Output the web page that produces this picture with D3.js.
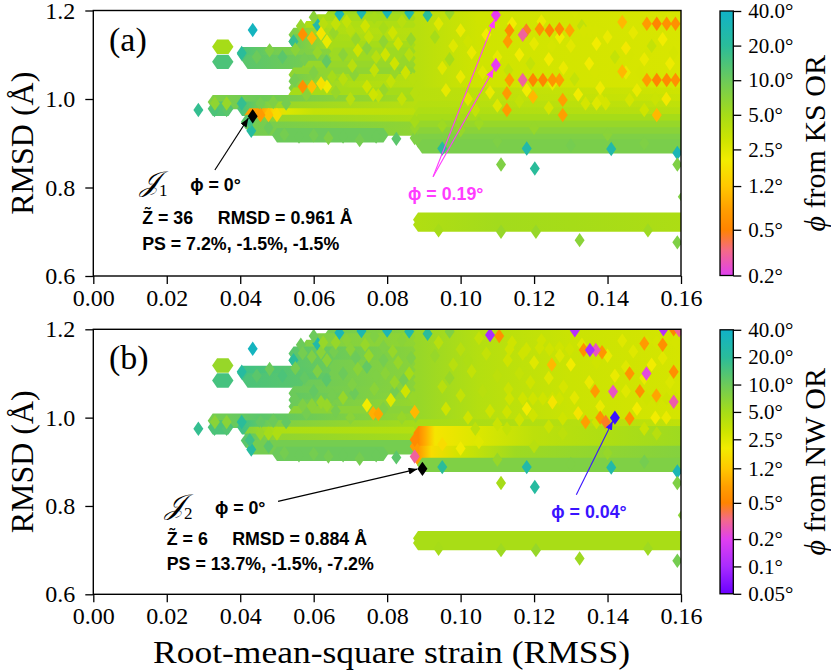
<!DOCTYPE html>
<html>
<head>
<meta charset="utf-8">
<script src="https://cdn.jsdelivr.net/npm/d3@7/dist/d3.min.js"></script>
<style>
  body { margin: 0; background: #fff; }
  svg text { font-family: "Liberation Serif", "DejaVu Serif", serif; fill: #000; }
  .note { font-family: "Liberation Sans", Arial, sans-serif; font-weight: bold; font-size: 17.8px; }
</style>
</head>
<body>
<svg id="fig" width="831" height="671"></svg>
<script>
// ---------- values ----------
const xTicks = [0, 0.02, 0.04, 0.06, 0.08, 0.10, 0.12, 0.14, 0.16];
const yTicks = [0.6, 0.8, 1.0, 1.2];
const ksTicks = [0.2, 0.5, 1.2, 2.5, 5, 10, 20, 40];
const nwTicks = [0.05, 0.1, 0.2, 0.5, 1.2, 2.5, 5, 10, 20, 40];

// colour map, misorientation phi (deg) -> colour
const cmapPhi = [0.05, 0.1, 0.2, 0.33, 0.5, 0.75, 1.2, 2.0, 3.0, 5, 10, 20, 40];
const cmapHex = ['#6a00ff', '#a92cff', '#e040f0', '#f46a88', '#ff8400', '#ff9e00', '#ffc800',
                 '#f2ec00', '#cfe400', '#a6dc18', '#6cca5a', '#2abc9a', '#10b2c8'];

// colour stops along a row: [RMSS, phi]
const ksUpper = [[0.0885, 4], [0.105, 3], [0.161, 2.7]];
const nwUpper = [[0.0885, 6], [0.105, 4.2], [0.13, 3.2], [0.161, 2.8]];
const nwBandMid = [[0.0885, 0.55], [0.0905, 0.9], [0.093, 1.8], [0.105, 2.6], [0.12, 3.8], [0.14, 4.5], [0.161, 5.5]];
const nwBandLow = [[0.0885, 0.7], [0.092, 1.6], [0.1, 3], [0.115, 5.5], [0.161, 7.5]];

// dense rows of overlapping structures: [RMSD, RMSS from, RMSS to, phi KS, phi NW]
const rowsLeft = [
  [1.118, 0.0337, 0.0368, 5, 6],
  [1.101, 0.0405, 0.0660, [[0.0405, 14], [0.05, 9], [0.066, 7]], [[0.0405, 16], [0.066, 10]]],
  [1.084, 0.0337, 0.0368, 14, 15],
  [1.084, 0.0420, 0.0660, [[0.042, 12], [0.066, 8]], [[0.042, 14], [0.066, 11]]],
  [1.190, 0.0645, 0.0885, 5.5, [[0.0645, 9], [0.0885, 7]]],
  [1.175, 0.0610, 0.0885, 5, [[0.061, 8], [0.0885, 6.5]]],
  [1.160, 0.0580, 0.0885, 4.5, [[0.058, 8], [0.0885, 6.5]]],
  [1.145, 0.0545, 0.0885, [[0.0545, 8], [0.065, 4.5], [0.0885, 4]], [[0.0545, 12], [0.0885, 7]]],
  [1.130, 0.0545, 0.0885, [[0.0545, 10], [0.065, 5], [0.0885, 4]], [[0.0545, 12], [0.0885, 7]]],
  [1.115, 0.0655, 0.0885, 5, [[0.0655, 9], [0.0885, 7]]],
  [1.100, 0.0655, 0.0885, 5.5, [[0.0655, 9], [0.0885, 7]]],
  [1.085, 0.0655, 0.0885, 5.5, [[0.0655, 9], [0.0885, 7]]],
  [1.070, 0.0580, 0.0885, 6, [[0.058, 10], [0.0885, 7]]],
  [1.055, 0.0545, 0.0885, 6.5, [[0.0545, 10], [0.0885, 7]]],
  [1.040, 0.0545, 0.0885, [[0.0545, 9], [0.07, 5], [0.0885, 4]], [[0.0545, 11], [0.0885, 6.5]]],
  [1.025, 0.0545, 0.0885, [[0.0545, 8], [0.07, 4.5], [0.0885, 4]], [[0.0545, 10], [0.0885, 6]]],
  [1.010, 0.0545, 0.0885, 5, 7],
  [0.993, 0.0325, 0.0885, [[0.0325, 8], [0.045, 10], [0.0885, 5]], [[0.0325, 9], [0.045, 12], [0.0885, 6]]],
  [0.978, 0.0325, 0.0368, 13, 14],
  [0.978, 0.0405, 0.0885, [[0.0405, 14], [0.05, 6], [0.0885, 4]], [[0.0405, 16], [0.05, 8], [0.0885, 5]]],
  [0.963, 0.0425, 0.0885, [[0.0455, 0.75], [0.049, 1.5], [0.053, 2.6], [0.06, 3.4], [0.0885, 3.8]],
                          [[0.0425, 7], [0.05, 4.5], [0.0885, 4.2]]],
  [0.948, 0.0415, 0.0885, [[0.0415, 12], [0.05, 6], [0.0885, 4.5]], [[0.0415, 12], [0.05, 6.5], [0.0885, 5]]],
  [0.933, 0.0430, 0.0885, [[0.043, 9], [0.0885, 6.5]], 9],
  [0.918, 0.0500, 0.0790, 10, 10]
];

const rowsRight = [
  [1.190, 0.0885, 0.161, ksUpper, nwUpper],
  [1.175, 0.0885, 0.161, ksUpper, nwUpper],
  [1.160, 0.0885, 0.161, ksUpper, nwUpper],
  [1.145, 0.0885, 0.161, ksUpper, nwUpper],
  [1.130, 0.0885, 0.161, ksUpper, nwUpper],
  [1.115, 0.0885, 0.161, ksUpper, nwUpper],
  [1.100, 0.0885, 0.161, ksUpper, nwUpper],
  [1.085, 0.0885, 0.161, ksUpper, nwUpper],
  [1.070, 0.0885, 0.161, ksUpper, nwUpper],
  [1.055, 0.0885, 0.161, ksUpper, nwUpper],
  [1.040, 0.0885, 0.161, ksUpper, nwUpper],
  [1.025, 0.0885, 0.161, ksUpper, nwUpper],
  [1.010, 0.0885, 0.161, [[0.0885, 4], [0.161, 3]], nwUpper],
  [0.995, 0.0885, 0.161, [[0.0885, 4], [0.161, 3.2]], nwUpper],
  [0.980, 0.0885, 0.161, [[0.0885, 4.2], [0.161, 3.6]], [[0.0885, 5], [0.161, 3.6]]],
  [0.965, 0.0885, 0.161, [[0.0885, 4.5], [0.161, 4]], nwBandMid],
  [0.950, 0.0885, 0.161, 5, nwBandMid],
  [0.935, 0.0885, 0.161, 6, nwBandMid],
  [0.920, 0.0885, 0.161, 7, nwBandLow],
  [0.905, 0.0885, 0.161, 8, nwBandLow],
  [0.893, 0.0895, 0.161, 8.5, 8]
];

const rowsBottom = [
  [0.727, 0.0884, 0.161, [[0.0884, 4.4], [0.11, 5.2], [0.13, 5], [0.161, 4.6]], 4.8],
  [0.716, 0.0884, 0.161, [[0.0884, 4.4], [0.11, 5.2], [0.13, 5], [0.161, 4.6]], 4.8]
];

// single structures: [RMSS, RMSD, phi KS, phi NW]
const dotsLeft = [
  [0.0404, 1.104, 20, 22], [0.0445, 1.095, 10, 12], [0.048, 1.11, 8, 10], [0.0515, 1.095, 12, 14],
  [0.055, 1.112, 7, 9], [0.0575, 1.09, 9, 11], [0.061, 1.105, 6, 8], [0.0635, 1.085, 11, 12],
  [0.0434, 1.156, 35, 35], [0.0545, 1.13, 18, 20],
  [0.057, 1.146, 0.6, 9], [0.0595, 1.138, 1.0, 8], [0.062, 1.148, 1.8, 7], [0.0636, 1.13, 2.2, 7],
  [0.0626, 1.17, 4, 6], [0.066, 1.17, 3.5, 6], [0.061, 1.168, 25, 25],
  [0.067, 1.192, 30, 30], [0.073, 1.196, 28, 28], [0.080, 1.197, 30, 30], [0.086, 1.195, 25, 25],
  [0.070, 1.155, 4, 7], [0.075, 1.14, 3.5, 6], [0.079, 1.16, 5, 8], [0.083, 1.125, 3, 6],
  [0.072, 1.11, 3, 7], [0.077, 1.095, 4, 8], [0.082, 1.08, 3, 6], [0.086, 1.1, 4, 5],
  [0.0548, 1.043, 9, 10], [0.057, 1.028, 0.6, 8], [0.0595, 1.028, 1.1, 7], [0.062, 1.035, 1.7, 6],
  [0.0636, 1.028, 2, 6], [0.068, 1.045, 4, 6], [0.0745, 1.028, 3, 2], [0.0762, 1.01, 3, 0.9],
  [0.0776, 1.008, 3.5, 0.8], [0.0875, 1.013, 4, 1.0], [0.081, 1.04, 3.5, 2.5], [0.085, 1.06, 3, 3],
  [0.0565, 1.165, 6, 10], [0.0600, 1.185, 7, 10], [0.0655, 1.150, 6, 9], [0.0690, 1.175, 3.5, 7],
  [0.0715, 1.135, 6, 10], [0.0740, 1.165, 3, 6], [0.0765, 1.185, 5, 8], [0.0790, 1.130, 6.5, 9],
  [0.0815, 1.150, 3, 6], [0.0840, 1.175, 4, 7], [0.0865, 1.135, 6, 8],
  [0.0680, 1.100, 7, 10], [0.0705, 1.075, 4, 8], [0.0745, 1.115, 7, 11], [0.0795, 1.100, 3, 7],
  [0.0845, 1.085, 6, 9], [0.0600, 1.060, 8, 11], [0.0650, 1.050, 5, 9], [0.0710, 1.055, 7, 10],
  [0.0765, 1.065, 3.5, 7], [0.0820, 1.060, 6, 9], [0.0870, 1.045, 4, 6],
  [0.0580, 1.010, 7, 9], [0.0660, 1.015, 6, 9], [0.0700, 1.000, 4, 7], [0.0790, 1.020, 6, 8],
  [0.0840, 1.000, 3.5, 6],
  [0.0286, 0.975, 18, 18], [0.0331, 0.99, 6.5, 7], [0.0363, 0.99, 6, 7], [0.033, 0.975, 14, 14],
  [0.0363, 0.975, 12, 13], [0.0404, 0.99, 18, 20], [0.0455, 0.99, 9, 11], [0.049, 0.993, 8, 10],
  [0.0525, 0.99, 9, 11], [0.0426, 0.949, 16, 16], [0.043, 0.928, 22, 22], [0.0477, 0.935, 10, 12],
  [0.052, 0.92, 9, 9], [0.056, 0.915, 10, 10], [0.06, 0.918, 9, 9], [0.064, 0.912, 8, 9],
  [0.068, 0.915, 10, 10], [0.0725, 0.907, 9, 9], [0.077, 0.915, 10, 10], [0.0825, 0.91, 12, 12],
  [0.0455, 0.964, 0.7, 6], [0.0477, 0.964, 1.1, 5], [0.0500, 0.964, 1.6, 4.5]
];

const dotsRight = [
  [0.094, 1.17, 2.5, 4], [0.1, 1.155, 2.2, 4], [0.105, 1.18, 3, 3.5], [0.098, 1.12, 2.5, 4],
  [0.103, 1.105, 2.2, 3.5], [0.095, 1.07, 2.5, 4], [0.1, 1.05, 2.2, 3.5], [0.106, 1.06, 2.5, 4],
  [0.096, 1.02, 2.3, 3], [0.102, 1.0, 2.5, 3], [0.108, 1.015, 2.2, 3], [0.114, 1.17, 2, 3],
  [0.12, 1.125, 2.3, 2.5], [0.124, 1.09, 2, 2.5], [0.13, 1.12, 2.4, 2], [0.135, 1.08, 2, 2.2],
  [0.14, 1.14, 2.2, 2.2], [0.145, 1.115, 1.9, 2.5], [0.15, 1.09, 2.2, 2.2], [0.155, 1.135, 2, 2.4],
  [0.118, 1.02, 2, 2], [0.125, 1.035, 2.2, 1.8], [0.132, 1.01, 2, 1.8], [0.148, 1.02, 2.2, 2],
  [0.156, 1.0, 1.9, 2.2], [0.11, 0.985, 2.5, 3.2], [0.137, 0.99, 2.5, 3],
  [0.091, 1.19, 20, 20], [0.097, 1.195, 6, 8], [0.093, 1.14, 5, 6], [0.097, 1.09, 5, 6],
  [0.102, 1.13, 3, 4.5], [0.107, 1.145, 2, 3.5], [0.110, 1.095, 2.3, 3.8], [0.113, 1.065, 3.5, 3.2],
  [0.116, 1.10, 2, 3.5], [0.119, 1.08, 3.5, 3], [0.122, 1.175, 2.2, 3], [0.127, 1.14, 2, 2.6],
  [0.128, 1.07, 2.2, 2.8], [0.133, 1.165, 3.6, 2.5], [0.137, 1.125, 2, 3], [0.142, 1.095, 3.5, 2.2],
  [0.147, 1.15, 2.3, 2.5], [0.152, 1.12, 3.5, 2.0], [0.157, 1.08, 2.1, 2.6], [0.145, 1.06, 2.2, 2.5],
  [0.131, 1.045, 3.5, 2.4], [0.138, 1.025, 2.1, 2.2], [0.153, 1.0, 3.2, 2.0], [0.116, 0.995, 3.5, 3.0],
  [0.104, 0.975, 3.5, 3.8], [0.124, 0.98, 2.8, 3.2], [0.150, 0.975, 3, 3.2],
  [0.095, 0.94, 5.5, 1.6], [0.1, 0.93, 6, 2], [0.105, 0.945, 5.5, 2.5], [0.12, 0.935, 6, 4],
  [0.14, 0.92, 7, 6], [0.11, 0.905, 8, 6], [0.13, 0.895, 9, 8], [0.15, 0.9, 8, 9],
  [0.095, 0.888, 20, 20], [0.118, 0.888, 25, 25], [0.141, 0.887, 25, 25], [0.159, 0.878, 30, 30]
];

const dotsSparse = [
  [0.111, 0.852, 8, 5], [0.1202, 0.843, 20, 22], [0.159, 0.852, 8, 8], [0.1605, 0.779, 8, 7],
  [0.1324, 0.681, 7, 5.5], [0.159, 0.676, 8, 9],
  [0.094, 0.703, 5, 5], [0.111, 0.700, 6, 5.5], [0.1205, 0.700, 6, 6], [0.151, 0.703, 5.5, 5.5]
];

// low-misorientation structures (orange / pink / purple)
const accentsKS = [
  [0.1133, 1.155, 0.55, 3], [0.1169, 1.145, 0.3, 3], [0.1179, 1.155, 0.45, 3], [0.1215, 1.158, 0.6, 3],
  [0.1242, 1.155, 0.5, 3], [0.1269, 1.158, 0.55, 3], [0.1297, 1.155, 0.8, 3], [0.1128, 1.13, 0.7, 3],
  [0.144, 1.174, 1.0, 2.5], [0.1507, 1.17, 0.7, 2.8], [0.1534, 1.17, 0.5, 2.8], [0.1561, 1.17, 0.6, 2.8],
  [0.1585, 1.17, 0.6, 2.8],
  [0.1133, 1.043, 0.7, 3], [0.1169, 1.043, 0.3, 3], [0.1197, 1.043, 0.5, 3], [0.1224, 1.043, 0.5, 3],
  [0.125, 1.043, 0.65, 3], [0.1269, 1.043, 0.7, 3], [0.1507, 1.043, 0.7, 3], [0.1534, 1.043, 0.5, 3],
  [0.1561, 1.043, 0.55, 3], [0.1585, 1.043, 0.6, 3], [0.144, 1.062, 1.0, 3],
  [0.1126, 1.013, 0.7, 3], [0.1126, 0.975, 0.7, 3.5], [0.1278, 0.998, 0.75, 3], [0.1278, 0.964, 0.75, 3.8],
  [0.1197, 1.005, 1.0, 3], [0.1534, 0.964, 1.0, 4]
];

const accentsNW = [
  [0.108, 1.187, 3, 0.1], [0.1105, 1.185, 3, 0.6], [0.1311, 1.198, 2.8, 0.12], [0.1352, 1.153, 2.8, 0.1],
  [0.1368, 1.153, 2.8, 0.25], [0.1335, 1.153, 2.8, 0.6], [0.1385, 1.148, 2.8, 0.65], [0.1506, 1.1, 2.8, 0.22],
  [0.146, 1.1, 2.8, 0.65], [0.158, 1.104, 2.8, 0.6], [0.1415, 1.059, 2.8, 0.25], [0.1488, 1.06, 2.8, 0.6],
  [0.1366, 1.06, 2.8, 0.7], [0.1533, 1.05, 2.8, 0.8], [0.158, 1.036, 2.8, 0.28], [0.1248, 1.12, 2.8, 1.0],
  [0.138, 1.0, 2.8, 0.6], [0.134, 0.99, 2.8, 0.75], [0.146, 0.998, 2.8, 0.6], [0.1395, 0.99, 2.8, 0.45],
  [0.155, 1.165, 2.8, 0.6], [0.150, 1.168, 2.8, 0.7], [0.1552, 1.2, 2.8, 0.12], [0.158, 1.2, 2.8, 0.5],
  [0.1595, 1.198, 2.8, 0.3], [0.0875, 0.95, 5, 0.55], [0.0875, 0.935, 6, 0.7], [0.0875, 0.912, 8, 0.3]
];

// highlighted structures: [RMSS, RMSD]
const bestKS = [[0.0434, 0.961]];
const bestNW = [[0.0896, 0.884]];
const minKS = [[0.1096, 1.190], [0.1096, 1.077]];
const minNW = [[0.1420, 1.000]];

// ---------- layout ----------
const svg = d3.select('#fig');
const defs = svg.append('defs');
const HW = 5, HH = 7.2;            // diamond half width / half height (px)
const plotL = 93.3, plotR = 681;
const cbL = 720, cbW = 13.3;

const color = d3.scaleLog().domain(cmapPhi).range(cmapHex)
  .interpolate(d3.interpolateRgb).clamp(true);

const x = d3.scaleLinear().domain([0, 0.16]).range([plotL, plotR]);

const arrowColors = { k: '#000', m: '#ff3cff', b: '#3a14ff' };
Object.entries(arrowColors).forEach(([k, c]) => {
  defs.append('marker').attr('id', 'ah-' + k)
    .attr('viewBox', '0 0 10 8').attr('refX', 10).attr('refY', 4)
    .attr('markerWidth', 9).attr('markerHeight', 7).attr('markerUnits', 'userSpaceOnUse')
    .attr('orient', 'auto')
    .append('path').attr('d', 'M0,0L10,4L0,8Z').attr('fill', c);
});

const panels = [
  { idx: 3, top: 10.5, bottom: 276, tag: '(a)', ticks: ksTicks, dom: [0.2, 40], title: ' from KS OR',
    best: bestKS, mins: minKS, minColor: '#e83cf0',
    notes: { j: '1', z: '36', rmsd: '0.961', ps: '7.2%, -1.5%, -1.5%', jx: 0.0127, jy: 0.792, phx: 0.0264,
             zx: 0.0133, zy: 0.7186, rx: 0.0339, py: 0.6587,
             arrow: [[0.0331, 0.8395], [0.0422, 0.9564]],
             minText: 'ϕ = 0.19°', mtx: 0.0857, mty: 0.7717, mc: 'm',
             minArrows: [[[0.0925, 0.8244], [0.1093, 1.180]], [[0.0925, 0.8244], [0.1090, 1.068]]] } },
  { idx: 4, top: 329.3, bottom: 594.3, tag: '(b)', ticks: nwTicks, dom: [0.05, 40], title: ' from NW OR',
    best: bestNW, mins: minNW, minColor: '#3a14ff',
    notes: { j: '2', z: '6', rmsd: '0.884', ps: '13.7%, -1.5%, -7.2%', jx: 0.0195, jy: 0.7816, phx: 0.0331,
             zx: 0.0200, zy: 0.7125, rx: 0.0378, py: 0.6545,
             arrow: [[0.0503, 0.8104], [0.0882, 0.8835]],
             minText: 'ϕ = 0.04°', mtx: 0.1247, mty: 0.7729, mc: 'b',
             minArrows: [[[0.1315, 0.8255], [0.1414, 0.992]]] } }
];

function diamond(cx, cy) {
  return `M${cx},${cy - HH}L${cx + HW},${cy}L${cx},${cy + HH}L${cx - HW},${cy}Z`;
}

panels.forEach((p, pi) => {
  const y = d3.scaleLinear().domain([0.6, 1.2]).range([p.bottom, p.top]);
  const g = svg.append('g');

  defs.append('clipPath').attr('id', 'clip' + pi)
    .append('rect').attr('x', plotL).attr('y', p.top)
    .attr('width', plotR - plotL).attr('height', p.bottom - p.top);

  const plot = g.append('g').attr('clip-path', `url(#clip${pi})`);

  // dense rows
  const rows = rowsLeft.concat(rowsRight, rowsBottom);
  rows.forEach((r, i) => {
    const phi = r[p.idx];
    let fill;
    if (Array.isArray(phi)) {
      const id = `grad${pi}_${i}`;
      const x0 = x(phi[0][0]), x1 = x(phi[phi.length - 1][0]);
      const lg = defs.append('linearGradient').attr('id', id)
        .attr('gradientUnits', 'userSpaceOnUse')
        .attr('x1', x0).attr('x2', x1).attr('y1', 0).attr('y2', 0);
      phi.forEach(s => lg.append('stop')
        .attr('offset', (x(s[0]) - x0) / (x1 - x0))
        .attr('stop-color', color(s[1])));
      fill = `url(#${id})`;
    } else {
      fill = color(phi);
    }
    const a = x(r[1]), b = x(r[2]), c = y(r[0]);
    plot.append('path')
      .attr('d', `M${a},${c - HH}L${b},${c - HH}L${b + HW},${c}L${b},${c + HH}L${a},${c + HH}L${a - HW},${c}Z`)
      .attr('fill', fill);
  });

  // single structures, lowest misorientation on top
  const k = p.idx - 1;
  const dots = dotsLeft.concat(dotsRight, dotsSparse, accentsKS, accentsNW)
    .slice().sort((u, v) => v[k] - u[k]);
  plot.selectAll('path.dot').data(dots).enter().append('path')
    .attr('class', 'dot')
    .attr('d', d => diamond(x(d[0]), y(d[1])))
    .attr('fill', d => color(d[k]));

  plot.selectAll('path.min').data(p.mins).enter().append('path')
    .attr('d', d => diamond(x(d[0]), y(d[1])))
    .attr('fill', p.minColor);
  plot.selectAll('path.best').data(p.best).enter().append('path')
    .attr('d', d => diamond(x(d[0]), y(d[1])))
    .attr('fill', '#000');

  // frame
  g.append('rect').attr('x', plotL).attr('y', p.top)
    .attr('width', plotR - plotL).attr('height', p.bottom - p.top)
    .attr('fill', 'none').attr('stroke', '#000').attr('stroke-width', 1.4);

  // axes
  const ax = g.append('g').attr('transform', `translate(0,${p.bottom})`)
    .call(d3.axisBottom(x).tickValues(xTicks).tickFormat(d3.format('.2f')).tickSize(8).tickPadding(5));
  const ay = g.append('g').attr('transform', `translate(${plotL},0)`)
    .call(d3.axisLeft(y).tickValues(yTicks).tickFormat(d3.format('.1f')).tickSize(8).tickPadding(10));
  [ax, ay].forEach(a => {
    a.select('.domain').remove();
    a.selectAll('line').attr('stroke', '#000').attr('stroke-width', 1.3);
    a.selectAll('text').style('font-family', '"Liberation Serif", serif').style('font-size', '24px');
  });

  g.append('text').attr('transform', `translate(33,${(p.top + p.bottom) / 2}) rotate(-90)`)
    .attr('text-anchor', 'middle').style('font-size', '32px').text('RMSD (Å)');

  g.append('text').attr('x', 109).attr('y', p.top + 40)
    .style('font-size', '34px').text(p.tag);

  // annotations
  const n = p.notes;
  const jt = g.append('text').attr('x', x(n.jx)).attr('y', y(n.jy)).style('font-size', '28px');
  jt.append('tspan').style('font-style', 'italic').text('𝒥');
  jt.append('tspan').attr('dy', 5).style('font-size', '17px').text(n.j);
  g.append('text').attr('class', 'note').attr('x', x(n.phx)).attr('y', y(n.jy)).text('ϕ = 0°');
  g.append('text').attr('class', 'note').attr('x', x(n.zx)).attr('y', y(n.zy)).text('Z̃ = ' + n.z);
  g.append('text').attr('class', 'note').attr('x', x(n.rx)).attr('y', y(n.zy)).text('RMSD = ' + n.rmsd + ' Å');
  g.append('text').attr('class', 'note').attr('x', x(n.zx)).attr('y', y(n.py)).text('PS = ' + n.ps);

  g.append('line')
    .attr('x1', x(n.arrow[0][0])).attr('y1', y(n.arrow[0][1]))
    .attr('x2', x(n.arrow[1][0])).attr('y2', y(n.arrow[1][1]))
    .attr('stroke', '#000').attr('stroke-width', 1.2).attr('marker-end', 'url(#ah-k)');

  g.append('text').attr('class', 'note').attr('x', x(n.mtx)).attr('y', y(n.mty))
    .style('fill', arrowColors[n.mc]).text(n.minText);
  n.minArrows.forEach(ar => {
    g.append('line')
      .attr('x1', x(ar[0][0])).attr('y1', y(ar[0][1]))
      .attr('x2', x(ar[1][0])).attr('y2', y(ar[1][1]))
      .attr('stroke', arrowColors[n.mc]).attr('stroke-width', 1.1)
      .attr('marker-end', `url(#ah-${n.mc})`);
  });

  // colour bar
  const cb = d3.scaleLog().domain(p.dom).range([p.bottom - 0.5, p.top + 0.5]);
  const gid = 'cbar' + pi;
  const cg = defs.append('linearGradient').attr('id', gid)
    .attr('gradientUnits', 'userSpaceOnUse')
    .attr('x1', 0).attr('x2', 0).attr('y1', cb(p.dom[0])).attr('y2', cb(p.dom[1]));
  const span = Math.log(p.dom[1] / p.dom[0]);
  const stops = [p.dom[0]].concat(cmapPhi.filter(v => v > p.dom[0] && v < p.dom[1]), [p.dom[1]]);
  stops.forEach(v => cg.append('stop')
    .attr('offset', Math.log(v / p.dom[0]) / span)
    .attr('stop-color', color(v)));
  g.append('rect').attr('x', cbL).attr('y', cb(p.dom[1]))
    .attr('width', cbW).attr('height', cb(p.dom[0]) - cb(p.dom[1]))
    .attr('fill', `url(#${gid})`).attr('stroke', '#000').attr('stroke-width', 1.3);
  const ac = g.append('g').attr('transform', `translate(${cbL + cbW},0)`)
    .call(d3.axisRight(cb).tickValues(p.ticks)
      .tickFormat(d => (d < 0.1 ? d3.format('.2f')(d) : d3.format('.1f')(d)) + '°')
      .tickSize(8).tickPadding(7));
  ac.select('.domain').remove();
  ac.selectAll('line').attr('stroke', '#000').attr('stroke-width', 1.3);
  ac.selectAll('text').style('font-family', '"Liberation Serif", serif').style('font-size', '21px');

  const ct = g.append('text').attr('transform', `translate(825,${(p.top + p.bottom) / 2}) rotate(-90)`)
    .attr('text-anchor', 'middle').style('font-size', '30px');
  ct.append('tspan').style('font-style', 'italic').text('ϕ');
  ct.append('tspan').text(p.title);
});

svg.append('text').attr('x', 391.5).attr('y', 663)
  .attr('text-anchor', 'middle').style('font-size', '32px')
  .attr('textLength', 477).attr('lengthAdjust', 'spacingAndGlyphs')
  .text('Root-mean-square strain (RMSS)');
</script>
</body>
</html>
